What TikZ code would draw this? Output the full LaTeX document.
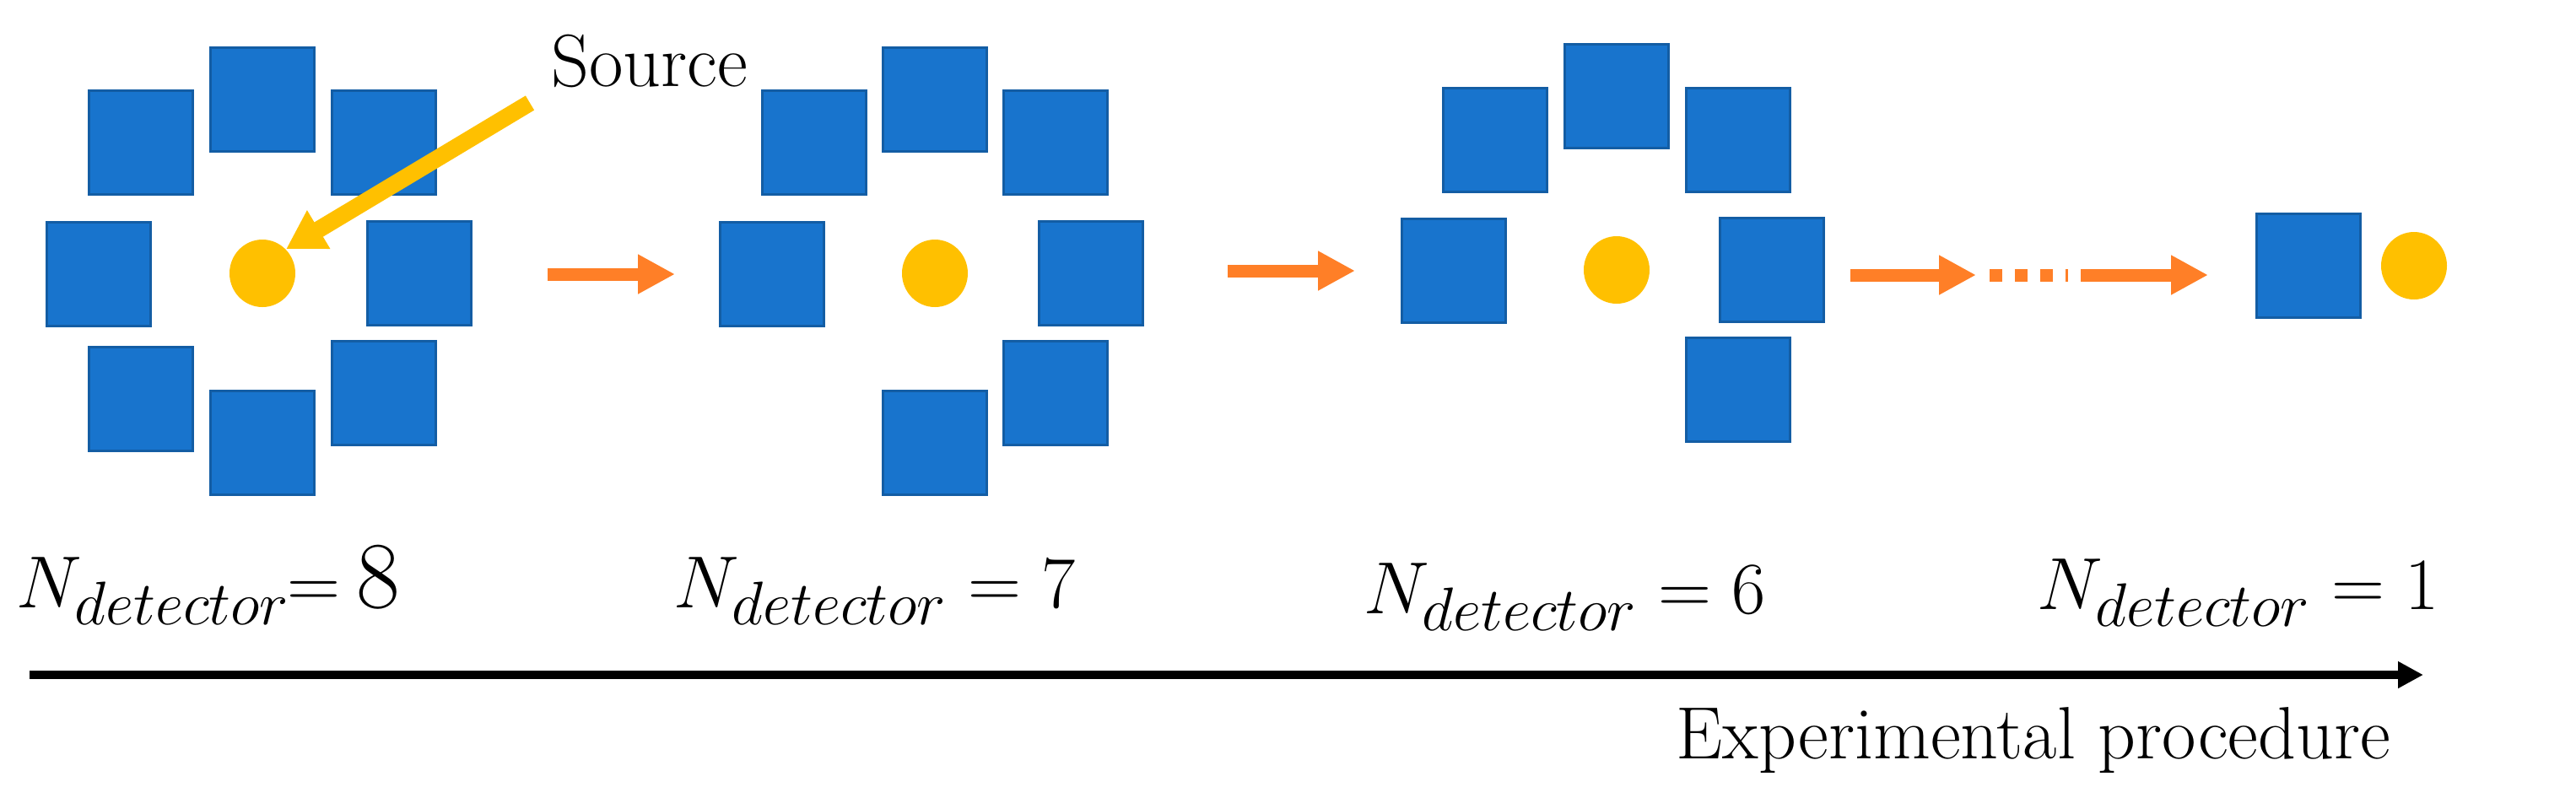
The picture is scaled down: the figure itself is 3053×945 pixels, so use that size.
\documentclass[tikz,border=0pt]{standalone}
\usetikzlibrary{arrows.meta,shapes.geometric}
\definecolor{detcol}{HTML}{1874CD}
\definecolor{srccol}{HTML}{FFC000}
\definecolor{orgcol}{HTML}{FF7F27}
\begin{document}
\begin{tikzpicture}[x=0.1mm,y=-0.1mm,
  det/.style={draw=detcol!80!black,line width=0.3mm,fill=detcol,minimum size=12.3mm,inner sep=0pt,outer sep=0pt},
  src/.style={ellipse,fill=srccol,minimum width=7.8mm,minimum height=8mm,inner sep=0pt},
  stepar/.style={draw=orgcol,line width=1.5mm,-{Triangle[width=4.4mm,length=4.4mm]}},
  lab/.style={anchor=base west,inner sep=0pt,font=\fontsize{32}{38}\selectfont},
  txt/.style={inner sep=0pt,font=\fontsize{25}{30}\selectfont}]
\useasboundingbox (0,0) rectangle (3053,945);
% group 1
\node[det] (a1) at (167,169) {};
\node[det] (a2) at (311,118) {};
\node[det] (a3) at (455,169) {};
\node[det] (a4) at (117,325) {};
\node[det] (a5) at (497,324) {};
\node[det] (a6) at (167,473) {};
\node[det] (a7) at (311,525) {};
\node[det] (a8) at (455,466) {};
\node[src] (s1) at (311,324) {};
\node[txt] (srclab) at (770,72) {Source};
\coordinate (ys) at (628,122);
\draw[draw=srccol,line width=2mm,-{Triangle[width=5mm,length=4.5mm]}] (ys) -- (s1.north east);
% group 2
\node[det] (b1) at (965,169) {};
\node[det] (b2) at (1108,118) {};
\node[det] (b3) at (1251,169) {};
\node[det] (b4) at (915,325) {};
\node[det] (b5) at (1293,324) {};
\node[det] (b7) at (1108,525) {};
\node[det] (b8) at (1251,466) {};
\node[src] (s2) at (1108,324) {};
% group 3
\node[det] (c1) at (1772,166) {};
\node[det] (c2) at (1916,114) {};
\node[det] (c3) at (2060,166) {};
\node[det] (c4) at (1723,321) {};
\node[det] (c5) at (2100,320) {};
\node[det] (c8) at (2060,462) {};
\node[src] (s3) at (1916,320) {};
% group 4
\node[det] (d1) at (2736,315) {};
\node[src] (s4) at (2861,315) {};
% step arrows
\coordinate (p1) at (649,325); \coordinate (q1) at (800,325);
\coordinate (p2) at (1455,321); \coordinate (q2) at (1606,321);
\coordinate (p3) at (2193,326); \coordinate (q3) at (2342,326);
\coordinate (p4) at (2466,326); \coordinate (q4) at (2617,326);
\coordinate (m1) at (2358,326); \coordinate (m2) at (2451,326);
\draw[stepar] (p1) -- (q1);
\draw[stepar] (p2) -- (q2);
\draw[stepar] (p3) -- (q3);
\draw[stepar] (p4) -- (q4);
\draw[orgcol,line width=1.5mm,dash pattern=on 1.5mm off 1.5mm] (m1) -- (m2);
% labels
\node[lab] (n1) at (19,720) {$N_{detector}$\kern-1pt$=$\,8};
\node[lab] (n2) at (798,720) {$N_{detector}=7$};
\node[lab] (n3) at (1616,727) {$N_{detector}=6$};
\node[lab] (n4) at (2414,722) {$N_{detector}=1$};
% procedure arrow
\coordinate (ea) at (35,800); \coordinate (eb) at (2872,800);
\draw[line width=1mm,-{Triangle[width=3mm,length=3mm]}] (ea) -- (eb);
\node[txt,anchor=base west] (exp) at (1986,899) {Experimental procedure};
\end{tikzpicture}
\end{document}
